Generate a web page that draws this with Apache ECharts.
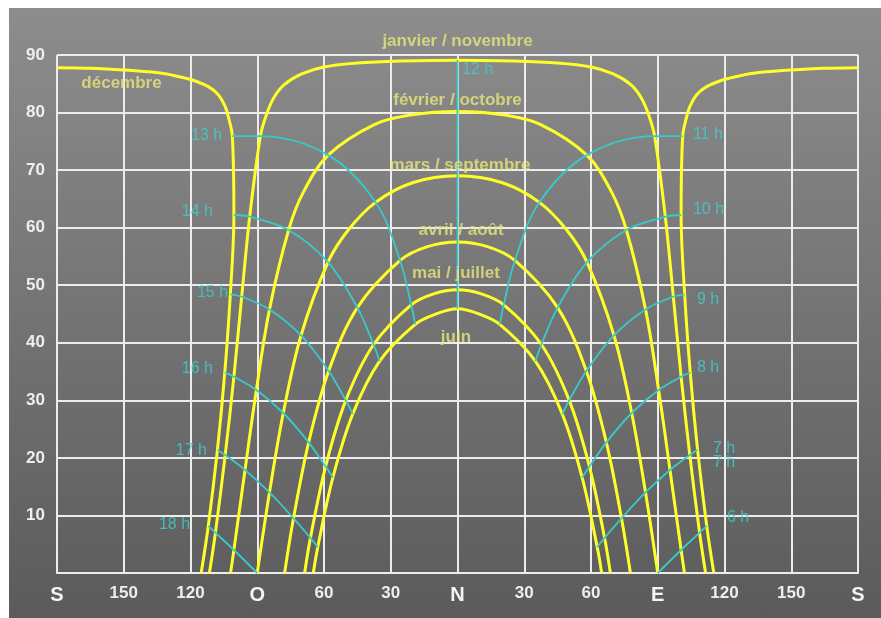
<!DOCTYPE html>
<html><head><meta charset="utf-8">
<script src="https://cdn.jsdelivr.net/npm/echarts@6/dist/echarts.min.js"></script>
<style>
html,body{margin:0;padding:0;background:#fff;}
#bg{position:absolute;left:9px;top:8px;width:872px;height:610px;background:linear-gradient(#8d8d8d,#5b5b5b);}
#chart{position:absolute;left:0;top:0;width:881px;height:618px;}
</style></head><body><div id="bg"></div><div id="chart"></div>
<script>
// Axis tick labels
const xTickLabels = ['S','150','120','O','60','30','N','30','60','E','120','150','S'];
const yTickLabels = ['','10','20','30','40','50','60','70','80','90'];

// Sun path curves: [azimuth (E positive, W negative, N = 0), elevation]
const decEast = [[115.2,0],[112.0,8.2],[107.9,21.4],[104.6,34.8],[102.1,48.4],[100.5,62.2],[101.2,75.9],[103.0,79.3],[104.5,81.1],[107.5,83.1],[112,84.5],[119.5,85.7],[127,86.4],[134.5,86.9],[150,87.4],[164.5,87.7],[180,87.8]];
const decWest = [[-180,87.8],[-164.5,87.7],[-150,87.4],[-134.5,86.9],[-127,86.4],[-119.5,85.7],[-112,84.5],[-107.5,83.1],[-104.5,81.1],[-103.0,79.3],[-101.2,75.9],[-100.5,62.2],[-102.1,48.4],[-104.6,34.8],[-107.9,21.4],[-112.0,8.2],[-115.2,0]];
const janNov = [[-111.5,0],[-108.8,7.0],[-104.4,20.5],[-100.5,34.1],[-97.0,48.0],[-93.4,61.9],[-88.6,75.9],[-86,79.5],[-82.5,82.6],[-78,84.8],[-70,86.7],[-60,87.9],[-45,88.6],[-25,88.95],[0,89.1],[25,88.95],[45,88.6],[60,87.9],[70,86.7],[78,84.8],[82.5,82.6],[86,79.5],[88.6,75.9],[93.4,61.9],[97.0,48.0],[100.5,34.1],[104.4,20.5],[108.8,7.0],[111.5,0]];
const febOct = [[-102.0,0],[-100.5,4.0],[-95.5,17.9],[-90.4,31.8],[-84.5,45.8],[-75.9,59.6],[-69.1,66.3],[-58.1,72.6],[-37.4,77.9],[-20.7,79.6],[0,80.2],[20.7,79.6],[37.4,77.9],[58.1,72.6],[69.1,66.3],[75.9,59.6],[84.5,45.8],[90.4,31.8],[95.5,17.9],[100.5,4.0],[102.0,0]];
const marSep = [[-90,0],[-84.5,14.0],[-78.3,27.8],[-70.3,41.3],[-58.2,54.0],[-49.1,59.6],[-36.8,64.4],[-20.2,67.8],[0,69.0],[20.2,67.8],[36.8,64.4],[49.1,59.6],[58.2,54.0],[70.3,41.3],[78.3,27.8],[84.5,14.0],[90,0]];
const aprAug = [[-77.7,0],[-73.7,9.5],[-66.9,22.7],[-57.9,35.1],[-45.0,46.1],[-25.8,54.3],[-13.5,56.7],[0,57.5],[13.5,56.7],[25.8,54.3],[45.0,46.1],[57.9,35.1],[66.9,22.7],[73.7,9.5],[77.7,0]];
const mayJul = [[-68.7,0],[-66.1,6.1],[-59.3,18.5],[-50.2,30.0],[-37.7,39.7],[-20.8,46.6],[-10.7,48.5],[0,49.2],[10.7,48.5],[20.8,46.6],[37.7,39.7],[50.2,30.0],[59.3,18.5],[66.1,6.1],[68.7,0]];
const jun = [[-64.8,0],[-62.8,4.5],[-56.0,16.6],[-47.1,27.6],[-35.0,36.8],[-19.0,43.2],[-9.7,45.0],[0,45.9],[9.7,45.0],[19.0,43.2],[35.0,36.8],[47.1,27.6],[56.0,16.6],[62.8,4.5],[64.8,0]];

// Hour lines (same solar hour across the months)
const h6  = [[112.0,8.2],[108.8,7.0],[100.5,4.0],[90,0]];
const h7  = [[107.9,21.4],[104.4,20.5],[95.5,17.9],[84.5,14.0],[73.7,9.5],[66.1,6.1],[62.8,4.5]];
const h8  = [[104.6,34.8],[100.5,34.1],[90.4,31.8],[78.3,27.8],[66.9,22.7],[59.3,18.5],[56.0,16.6]];
const h9  = [[102.1,48.4],[97.0,48.0],[84.5,45.8],[70.3,41.3],[57.9,35.1],[50.2,30.0],[47.1,27.6]];
const h10 = [[100.5,62.2],[93.4,61.9],[75.9,59.6],[58.2,54.0],[45.0,46.1],[37.7,39.7],[35.0,36.8]];
const h11 = [[101.2,75.9],[88.6,75.9],[58.1,72.6],[36.8,64.4],[25.8,54.3],[20.8,46.6],[19.0,43.2]];
const h12 = [[0,89.1],[0,80.2],[0,69.0],[0,57.5],[0,49.2],[0,45.9]];
const h13 = [[-101.2,75.9],[-88.6,75.9],[-58.1,72.6],[-36.8,64.4],[-25.8,54.3],[-20.8,46.6],[-19.0,43.2]];
const h14 = [[-100.5,62.2],[-93.4,61.9],[-75.9,59.6],[-58.2,54.0],[-45.0,46.1],[-37.7,39.7],[-35.0,36.8]];
const h15 = [[-102.1,48.4],[-97.0,48.0],[-84.5,45.8],[-70.3,41.3],[-57.9,35.1],[-50.2,30.0],[-47.1,27.6]];
const h16 = [[-104.6,34.8],[-100.5,34.1],[-90.4,31.8],[-78.3,27.8],[-66.9,22.7],[-59.3,18.5],[-56.0,16.6]];
const h17 = [[-107.9,21.4],[-104.4,20.5],[-95.5,17.9],[-84.5,14.0],[-73.7,9.5],[-66.1,6.1],[-62.8,4.5]];
const h18 = [[-112.0,8.2],[-108.8,7.0],[-100.5,4.0],[-90,0]];

// Text annotations: [text, azimuth, elevation]
const monthLabels = [
  ['janvier / novembre', 0, 92.3],
  ['décembre', -151.0, 85.1],
  ['février / octobre', 0, 82.1],
  ['mars / septembre', 1.1, 70.9],
  ['avril / août', 1.6, 59.5],
  ['mai / juillet', -0.7, 52.1],
  ['juin', -0.7, 41.0]
];
const hourLabelsEast = [
  ['12 h', 2.0, 87.4], ['11 h', 105.8, 76.1], ['10 h', 105.8, 63.1], ['9 h', 107.6, 47.5],
  ['8 h', 107.6, 35.7], ['7 h', 114.8, 21.6], ['7 h', 114.8, 19.2], ['6 h', 121.1, 9.6]
];
const hourLabelsWest = [
  ['13 h', -105.8, 76.0], ['14 h', -109.9, 62.8], ['15 h', -103.1, 48.7],
  ['16 h', -109.9, 35.5], ['17 h', -112.6, 21.3], ['18 h', -120.2, 8.4]
];

const FONT = '"Liberation Sans", Arial, sans-serif';
const YELLOW = '#ffff28';
const CYAN = '#38caca';

function curve(data) {
  return {type:'line', data, smooth:0.35, symbol:'none', silent:true, z:3,
    lineStyle:{color:YELLOW, width:3}};
}
function hourLine(data) {
  return {type:'line', data, smooth:0.35, symbol:'none', silent:true, z:4,
    lineStyle:{color:CYAN, width:1.8}};
}

const series = [];
[decEast, decWest, janNov, febOct, marSep, aprAug, mayJul, jun].forEach(d => series.push(curve(d)));
[h6,h7,h8,h9,h10,h11,h12,h13,h14,h15,h16,h17,h18].forEach(d => series.push(hourLine(d)));

series.push({type:'scatter', symbolSize:0, silent:true, clip:false, z:10,
  data: monthLabels.map(m => ({name:m[0], value:[m[1], m[2]]})),
  label:{show:true, position:'inside', formatter:p => p.name, color:'#e6e67c',
    fontSize:17, fontWeight:'bold', fontFamily:FONT}});
series.push({type:'scatter', symbolSize:0, silent:true, clip:false, z:10,
  data: hourLabelsEast.map(m => ({name:m[0], value:[m[1], m[2]]})),
  label:{show:true, position:'right', distance:0, formatter:p => p.name, color:'#3ed0d0',
    fontSize:16, fontFamily:FONT}});
series.push({type:'scatter', symbolSize:0, silent:true, clip:false, z:10,
  data: hourLabelsWest.map(m => ({name:m[0], value:[m[1], m[2]]})),
  label:{show:true, position:'left', distance:0, formatter:p => p.name, color:'#3ed0d0',
    fontSize:16, fontFamily:FONT}});

const chart = echarts.init(document.getElementById('chart'));
chart.setOption({
  backgroundColor:'transparent',
  animation:false,
  grid:{left:57, right:23, top:55, bottom:45},
  xAxis:{type:'value', min:-180, max:180, interval:30,
    axisLine:{show:true, lineStyle:{color:'#ececec', width:2}},
    axisTick:{show:false},
    splitLine:{show:true, lineStyle:{color:'#ececec', width:2}},
    axisLabel:{margin:12, color:'#f2f2f2', fontFamily:FONT,
      formatter:v => {
        const t = xTickLabels[Math.round((v + 180) / 30)];
        return /^[A-Z]$/.test(t) ? '{l|' + t + '}' : '{n|' + t + '}';
      },
      rich:{
        l:{fontSize:20, fontWeight:'bold', color:'#f4f4f4', fontFamily:FONT},
        n:{fontSize:17, fontWeight:'bold', color:'#eeeeee', fontFamily:FONT}
      }}
  },
  yAxis:{type:'value', min:0, max:90, interval:10,
    axisLine:{show:true, lineStyle:{color:'#ececec', width:2}},
    axisTick:{show:false},
    splitLine:{show:true, lineStyle:{color:'#ececec', width:2}},
    axisLabel:{margin:12, color:'#eeeeee', fontSize:17, fontWeight:'bold', fontFamily:FONT,
      formatter:v => yTickLabels[Math.round(v / 10)]}
  },
  series
});
</script></body></html>
